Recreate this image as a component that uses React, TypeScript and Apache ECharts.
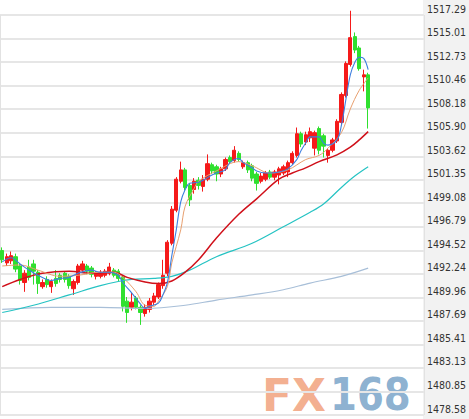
import { useEffect, useRef } from "react";
import * as echarts from "echarts";

// ---- data ----
const slotCount = 95;
const categories = Array.from({ length: slotCount }, (_, i) => `K${i + 1}`);

const opens = [
  1494.5, 1493.3, 1493.5, 1493.9, 1493.0, 1491.4, 1492.9, 1493.2, 1492.4, 1491.0,
  1491.7, 1491.0, 1491.8, 1492.1, 1492.3, 1492.0, 1490.8, 1491.4, 1492.6, 1493.0,
  1492.8, 1492.0, 1492.0, 1492.1, 1492.3, 1492.6, 1492.5, 1491.9, 1489.6, 1489.0,
  1489.9, 1489.0, 1488.4, 1488.8, 1489.5, 1490.0, 1491.1, 1492.3, 1495.2, 1498.4,
  1501.2, 1502.3, 1500.8, 1500.4, 1501.3, 1500.7, 1501.4, 1502.8, 1502.6, 1501.9,
  1502.4, 1503.5, 1503.2, 1503.9, 1502.6, 1503.0, 1502.7, 1501.9, 1501.2, 1501.4,
  1502.1, 1501.6, 1501.8, 1502.0, 1502.1, 1503.0, 1503.7, 1505.8, 1505.0, 1505.4,
  1504.4, 1506.3, 1505.6, 1503.7, 1504.2, 1505.1, 1506.9, 1509.5, 1512.5, 1515.2,
  1514.1, 1511.3, 1511.5,
];
const closes = [
  1493.6, 1493.9, 1494.0, 1492.7, 1491.6, 1492.3, 1491.9, 1492.5, 1491.3, 1491.4,
  1491.2, 1491.5, 1491.3, 1491.7, 1491.7, 1491.1, 1491.5, 1493.0, 1493.2, 1492.5,
  1492.2, 1492.3, 1492.4, 1492.5, 1492.9, 1492.1, 1491.8, 1489.1, 1488.5, 1489.5,
  1489.0, 1488.5, 1489.0, 1489.6, 1490.1, 1491.2, 1492.1, 1495.3, 1498.5, 1501.4,
  1502.3, 1500.6, 1499.4, 1501.2, 1500.8, 1501.4, 1502.9, 1502.2, 1501.9, 1502.4,
  1503.3, 1503.1, 1504.2, 1503.3, 1503.0, 1502.3, 1501.5, 1501.0, 1501.7, 1502.0,
  1501.6, 1502.1, 1502.4, 1502.6, 1503.0, 1503.9, 1505.8, 1504.8, 1505.7, 1506.0,
  1505.9, 1504.2, 1504.6, 1504.2, 1505.2, 1507.0, 1509.6, 1512.6, 1515.1, 1513.9,
  1512.1, 1511.5, 1508.3,
];
const lows = [
  1493.3, 1493.0, 1493.2, 1492.4, 1491.2, 1490.5, 1491.6, 1491.2, 1490.3, 1490.8,
  1490.9, 1490.4, 1491.0, 1491.4, 1491.4, 1490.8, 1490.2, 1491.2, 1492.4, 1492.2,
  1491.9, 1491.7, 1491.8, 1491.9, 1492.1, 1491.9, 1491.5, 1488.6, 1487.5, 1488.7,
  1488.8, 1487.3, 1488.1, 1488.5, 1489.2, 1489.8, 1490.8, 1492.0, 1495.0, 1498.2,
  1501.0, 1500.3, 1498.8, 1500.0, 1500.4, 1500.2, 1501.2, 1501.9, 1501.2, 1501.6,
  1502.2, 1502.9, 1503.0, 1503.1, 1502.4, 1502.0, 1501.2, 1500.3, 1501.0, 1501.2,
  1501.4, 1501.3, 1500.9, 1501.8, 1501.6, 1502.8, 1503.5, 1504.5, 1504.7, 1505.0,
  1503.7, 1503.8, 1503.5, 1503.0, 1504.0, 1504.9, 1506.7, 1509.3, 1512.3, 1513.6,
  1511.9, 1509.9, 1506.3,
];
const highs = [
  1494.8, 1494.2, 1494.4, 1494.2, 1493.3, 1492.6, 1493.6, 1493.6, 1492.6, 1491.7,
  1492.0, 1491.7, 1492.6, 1492.3, 1492.5, 1492.2, 1491.7, 1493.2, 1493.5, 1493.2,
  1493.0, 1492.5, 1492.6, 1492.7, 1493.3, 1492.8, 1492.7, 1492.1, 1490.0, 1490.4,
  1490.1, 1489.2, 1489.3, 1489.9, 1490.4, 1491.4, 1493.6, 1495.5, 1498.8, 1501.6,
  1503.1, 1502.5, 1501.0, 1501.5, 1501.6, 1501.8, 1503.8, 1503.0, 1502.8, 1502.6,
  1503.5, 1503.7, 1504.6, 1504.1, 1503.2, 1503.2, 1502.9, 1502.1, 1502.0, 1502.2,
  1502.3, 1502.3, 1502.6, 1502.8, 1503.2, 1504.1, 1506.4, 1506.0, 1506.0, 1506.4,
  1506.1, 1506.5, 1505.8, 1504.4, 1505.4, 1507.2, 1509.8, 1512.8, 1517.7, 1515.6,
  1514.3, 1512.0, 1511.7,
];

// moving averages: [slot index, value]
const ma5 = [
  [0, 1493.4], [2, 1493.8], [4, 1493.2], [6, 1492.6], [8, 1492.1], [11, 1491.6],
  [13, 1491.8], [15, 1491.9], [17, 1492.3], [20, 1492.6], [22, 1492.4], [24, 1492.4],
  [26, 1492.1], [27, 1491.4], [29, 1490.4], [31, 1489.3], [32, 1488.9], [33, 1489.1],
  [35, 1489.4], [36, 1490.2], [37, 1491.4], [38, 1494.0], [39, 1496.5], [40, 1499.2],
  [41, 1500.4], [42, 1501.0], [44, 1501.1], [45, 1501.3], [47, 1501.8], [48, 1502.0],
  [50, 1502.3], [51, 1503.0], [53, 1503.4], [54, 1503.0], [56, 1502.5], [57, 1502.2],
  [59, 1502.0], [60, 1502.0], [62, 1502.1], [64, 1502.4], [66, 1503.3], [67, 1504.2],
  [68, 1504.9], [69, 1505.5], [71, 1505.5], [72, 1504.9], [73, 1504.7], [75, 1505.2],
  [76, 1506.6], [77, 1509.1], [78, 1511.5], [79, 1512.7], [80, 1513.2], [81, 1513.1],
  [82, 1512.0],
];
const ma10 = [
  [0, 1493.0], [4, 1493.1], [8, 1492.6], [13, 1492.0], [17, 1492.1], [22, 1492.4],
  [25, 1492.4], [27, 1491.9], [30, 1490.5], [32, 1489.2], [34, 1489.1], [35, 1489.6],
  [37, 1491.0], [38, 1493.3], [40, 1496.5], [41, 1498.8], [43, 1500.5], [44, 1501.2],
  [48, 1502.2], [53, 1503.1], [56, 1502.7], [60, 1502.0], [64, 1502.3], [68, 1503.3],
  [71, 1503.7], [73, 1504.4], [76, 1505.9], [78, 1508.2], [80, 1510.0], [82, 1511.2],
];
const ma20 = [
  [0, 1491.0], [4, 1491.7], [9, 1492.3], [15, 1492.5], [20, 1492.3], [25, 1492.4],
  [28, 1491.9], [32, 1491.45], [35, 1491.3], [38, 1491.55], [41, 1492.4], [44, 1493.6],
  [48, 1495.7], [53, 1498.0], [57, 1499.5], [62, 1501.4], [65, 1502.0], [68, 1502.5],
  [71, 1503.1], [75, 1503.75], [78, 1504.5], [80, 1505.2], [82, 1506.0],
];
const ma60 = [
  [0, 1488.5], [7, 1489.2], [15, 1490.2], [22, 1491.1], [26, 1491.5], [29, 1491.7],
  [34, 1491.8], [38, 1492.0], [42, 1492.6], [48, 1493.9], [56, 1495.2], [63, 1496.8],
  [69, 1498.2], [72, 1499.0], [76, 1500.6], [79, 1501.7], [82, 1502.6],
];
const ma120 = [
  [0, 1488.8], [11, 1489.0], [22, 1489.0], [32, 1488.9], [41, 1489.2], [48, 1489.7],
  [56, 1490.2], [63, 1490.7], [69, 1491.35], [76, 1492.0], [82, 1492.8],
];

const yTicks = [
  1478.58, 1480.85, 1483.13, 1485.41, 1487.69, 1489.96, 1492.24, 1494.52, 1496.79,
  1499.08, 1501.35, 1503.62, 1505.9, 1508.18, 1510.46, 1512.73, 1515.01, 1517.29,
];
const dividerSlot = 82;

export default function App() {
  const ref = useRef<HTMLDivElement>(null);
  useEffect(() => {
    const chart = echarts.init(ref.current!, null, { renderer: "svg" });
    const candles = opens.map((o, i) => [o, closes[i], lows[i], highs[i]]);
    const pts = (arr: number[][]) => arr.map(([i, v]) => [categories[i], v]);
    const maLine = (name: string, data: number[][], color: string, width: number) => ({
      name,
      type: "line",
      data: pts(data),
      smooth: 0.35,
      symbol: "none",
      silent: true,
      lineStyle: { color, width },
      z: 3,
    });
    chart.setOption({
      animation: false,
      backgroundColor: "#ffffff",
      grid: { left: 0, right: 45, top: 15, bottom: 4, containLabel: false },
      xAxis: {
        type: "category",
        data: categories,
        boundaryGap: true,
        axisLine: { show: false },
        axisTick: { show: false },
        axisLabel: { show: false },
        splitLine: {
          show: true,
          interval: (idx: number) => idx === dividerSlot,
          lineStyle: { color: "#e2e2e2", width: 1 },
        },
      },
      yAxis: {
        type: "value",
        position: "right",
        min: yTicks[0],
        max: yTicks[yTicks.length - 1],
        axisLine: { show: false },
        axisTick: { show: false, customValues: yTicks },
        axisLabel: {
          customValues: yTicks,
          formatter: (v: number) => v.toFixed(2),
          margin: 3,
          verticalAlign: "bottom",
          padding: [0, 0, 1, 0],
          color: "#333333",
          fontSize: 10.5,
          fontFamily: 'Tahoma, "DejaVu Sans Condensed", "Liberation Sans", sans-serif',
        },
        splitLine: { show: true, lineStyle: { color: "#e6e6e6", width: 2 } },
      },
      graphic: [
        {
          type: "rect",
          z: -10,
          shape: { x: 423, y: 0, width: 46, height: 419 },
          style: { fill: "#f2f2f2" },
          silent: true,
        },
        {
          type: "text",
          x: 262,
          y: 395,
          style: {
            text: "FX",
            fill: "#f2a582",
            opacity: 0.9,
            font: 'bold 44px "DejaVu Sans", sans-serif',
            lineHeight: 40,
            textVerticalAlign: "middle",
          },
          silent: true,
        },
        {
          type: "text",
          x: 330,
          y: 395,
          scaleX: 0.88,
          style: {
            text: "168",
            fill: "#7ea8cb",
            opacity: 0.9,
            font: 'bold 44px "DejaVu Sans", sans-serif',
            lineHeight: 40,
            textVerticalAlign: "middle",
          },
          silent: true,
        },
      ],
      series: [
        {
          name: "K",
          type: "candlestick",
          data: candles,
          barWidth: 3.8,
          clip: false,
          silent: true,
          itemStyle: {
            color: "#f51a1a",
            color0: "#2fe02f",
            borderColor: "#f51a1a",
            borderColor0: "#2fe02f",
            borderWidth: 1,
          },
          z: 2,
        },
        maLine("MA120", ma120, "#a8bfd8", 1.2),
        maLine("MA60", ma60, "#25c3c3", 1.2),
        maLine("MA20", ma20, "#d0101a", 1.5),
        maLine("MA10", ma10, "#e8a070", 1),
        maLine("MA5", ma5, "#3d7fe0", 1.1),
      ],
    });
    return () => chart.dispose();
  }, []);
  return (
    <div
      ref={ref}
      style={{ position: "absolute", left: 0, top: 0, width: 469, height: 419, background: "#fff" }}
    />
  );
}
